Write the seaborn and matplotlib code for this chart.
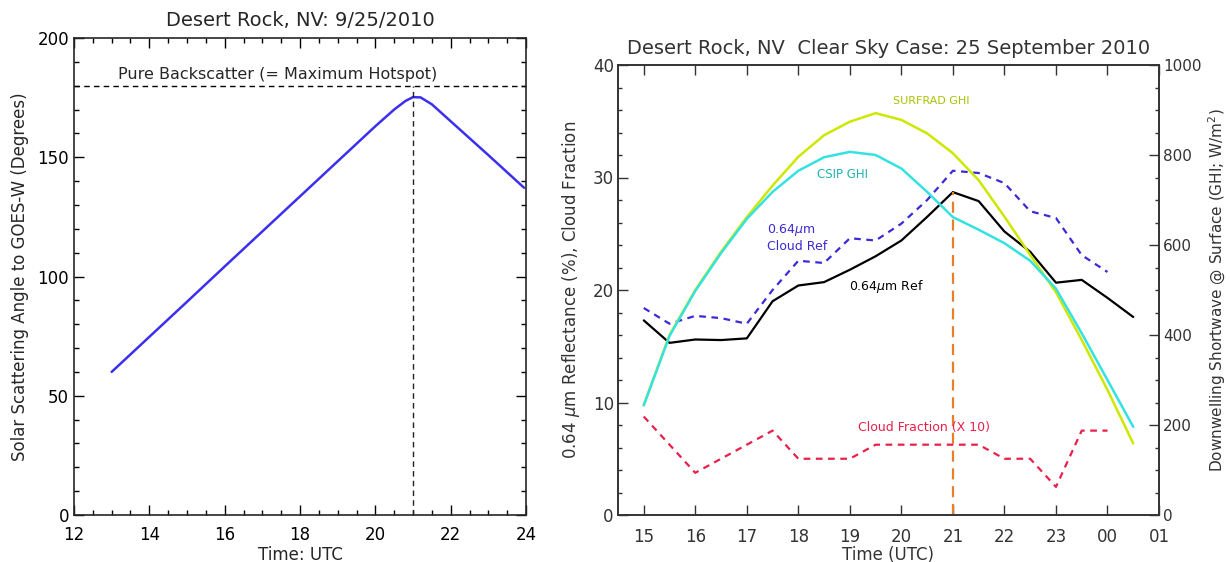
import matplotlib
matplotlib.use("Agg")
import matplotlib.pyplot as plt
import seaborn as sns
import numpy as np
from matplotlib.ticker import MultipleLocator

# ---------------- data: left panel ----------------
angle_hours = [13, 14, 15, 16, 17, 18, 19, 20, 20.5, 20.8, 21.0, 21.2, 21.5, 22, 23, 23.95]
angle_deg = [60, 74.7, 89.4, 104.2, 118.9, 133.6, 148.3, 163, 170.0, 173.6, 175.2, 175.1, 172.2, 165.1, 150.9, 137.2]
backscatter_angle = 180
hotspot_hour = 21

# ---------------- data: right panel ----------------
hours = [15, 15.5, 16, 16.5, 17, 17.5, 18, 18.5, 19, 19.5, 20, 20.5, 21, 21.5, 22, 22.5, 23, 23.5, 24, 24.5]
ref_064 = [17.3, 15.3, 15.6, 15.55, 15.7, 19.0, 20.4, 20.7, 21.8, 23.0, 24.4, 26.5, 28.7, 27.9, 25.2, 23.4, 20.65, 20.9, 19.3, 17.6]
cloud_ref_hours = hours[:-1]
cloud_ref = [18.4, 17.0, 17.7, 17.5, 17.0, 20.0, 22.6, 22.4, 24.6, 24.4, 25.9, 28.0, 30.6, 30.4, 29.5, 27.0, 26.4, 23.1, 21.6]
cf_hours = hours[:-1]
cloud_frac_x10 = [8.75, 6.25, 3.75, 5.0, 6.25, 7.5, 5.0, 5.0, 5.0, 6.25, 6.25, 6.25, 6.25, 6.25, 5.0, 5.0, 2.5, 7.5, 7.5]
surfrad_ghi = [244, 400, 500, 585, 662, 732, 796, 844, 874, 893, 878, 848, 804, 744, 663, 578, 495, 389, 278, 159]
csip_ghi = [244, 398, 498, 582, 658, 718, 765, 795, 807, 800, 770, 718, 662, 634, 604, 565, 503, 404, 300, 196]
ref_peak_hour = 21
ref_peak_value = 28.7
xtick_pos = [15, 16, 17, 18, 19, 20, 21, 22, 23, 24, 25]
xtick_labels = ["15", "16", "17", "18", "19", "20", "21", "22", "23", "00", "01"]

sns.set_style("ticks")
plt.rcParams['font.family'] = ['DejaVu Sans']

fig = plt.figure(figsize=(12.3, 5.62), dpi=100)
axL = fig.add_axes([74/1230, 47/562, 452/1230, 477/562])
axR = fig.add_axes([618/1230, 47/562, 541/1230, 450/562])

# ---------------- left panel ----------------
sns.lineplot(x=angle_hours, y=angle_deg, ax=axL, color="#3b2ff0", lw=1.8, sort=False)
axL.axhline(backscatter_angle, color="black", lw=1.0, ls=(0, (4, 3)))
axL.plot([hotspot_hour, hotspot_hour], [0, backscatter_angle], color="#222222", lw=1.0, ls=(0, (4, 3)))
axL.text(17.41, 184.5, "Pure Backscatter (= Maximum Hotspot)", ha="center", va="center", fontsize=11.5)
axL.set_xlim(12, 24)
axL.set_ylim(0, 200)
axL.xaxis.set_major_locator(MultipleLocator(2))
axL.xaxis.set_minor_locator(MultipleLocator(0.5))
axL.yaxis.set_major_locator(MultipleLocator(50))
axL.yaxis.set_minor_locator(MultipleLocator(10))
axL.tick_params(which="both", direction="in", top=True, right=True, labelsize=12, colors="black")
axL.tick_params(which="major", length=7, width=1.0)
axL.tick_params(which="minor", length=3.5, width=1.0)
axL.tick_params(axis="x", pad=8)
axL.set_title("Desert Rock, NV: 9/25/2010", fontsize=14, pad=9)
axL.set_xlabel("Time: UTC", fontsize=12, labelpad=1)
axL.set_ylabel("Solar Scattering Angle to GOES-W (Degrees)", fontsize=12, labelpad=6)
for s in axL.spines.values():
    s.set_linewidth(1.2)

# ---------------- right panel ----------------
gray = "#333333"
sns.lineplot(x=hours, y=ref_064, ax=axR, color="black", lw=1.6, sort=False)
sns.lineplot(x=cloud_ref_hours, y=cloud_ref, ax=axR, color="#3a2ad8", lw=1.6, sort=False, linestyle=(0, (3, 2.5)))
sns.lineplot(x=cf_hours, y=cloud_frac_x10, ax=axR, color="#e8204a", lw=1.6, sort=False, linestyle=(0, (3, 2.5)))
axR.plot([ref_peak_hour, ref_peak_hour], [0, ref_peak_value], color="#e8802a", lw=1.6, ls=(0, (5, 3)))

axR2 = axR.twinx()
sns.lineplot(x=hours, y=surfrad_ghi, ax=axR2, color="#cde800", lw=1.8, sort=False)
sns.lineplot(x=hours, y=csip_ghi, ax=axR2, color="#35e2e2", lw=1.8, sort=False)

axR.text(20.58, 36.8, "SURFRAD GHI", color="#a8c400", fontsize=8, ha="center", va="center")
axR.text(18.86, 30.3, "CSIP GHI", color="#1fb3b3", fontsize=8.5, ha="center", va="center")
axR.text(17.39, 25.3, "0.64$\\mu$m", color="#3a2ad0", fontsize=9, ha="left", va="center")
axR.text(17.39, 23.85, "Cloud Ref", color="#3a2ad0", fontsize=9, ha="left", va="center")
axR.text(18.99, 20.3, "0.64$\\mu$m Ref", color="black", fontsize=9, ha="left", va="center")
axR.text(20.44, 7.8, "Cloud Fraction (X 10)", color="#e8204a", fontsize=9, ha="center", va="center")

axR.set_xlim(14.5, 25.0)
axR.set_ylim(0, 40)
axR2.set_ylim(0, 1000)
axR.set_xticks(xtick_pos)
axR.set_xticklabels(xtick_labels)
axR.yaxis.set_major_locator(MultipleLocator(10))
axR.yaxis.set_minor_locator(MultipleLocator(2))
axR2.yaxis.set_major_locator(MultipleLocator(200))
axR2.yaxis.set_minor_locator(MultipleLocator(50))
axR.tick_params(which="both", direction="in", top=True, right=False, labelsize=12, colors=gray)
axR.tick_params(which="major", length=7, width=1.0)
axR.tick_params(which="minor", length=3, width=1.0)
axR.tick_params(axis="x", pad=9)
axR.tick_params(axis="y", pad=3)
axR2.tick_params(which="both", direction="in", labelsize=11, colors=gray, pad=3)
axR2.tick_params(which="major", length=7, width=1.0)
axR2.tick_params(which="minor", length=3, width=1.0)
axR.set_title("Desert Rock, NV  Clear Sky Case: 25 September 2010", fontsize=14, color=gray, pad=8)
axR.set_xlabel("Time (UTC)", fontsize=12, color=gray, labelpad=0)
axR.set_ylabel("0.64 $\\mu$m Reflectance (%), Cloud Fraction", fontsize=12, color=gray, labelpad=8)
axR2.set_ylabel("Downwelling Shortwave @ Surface (GHI; W/m$^2$)", fontsize=11, color=gray, labelpad=4)
for a in (axR, axR2):
    for s in a.spines.values():
        s.set_linewidth(1.2)
        s.set_color(gray)

fig.savefig("out.png", dpi=100)
